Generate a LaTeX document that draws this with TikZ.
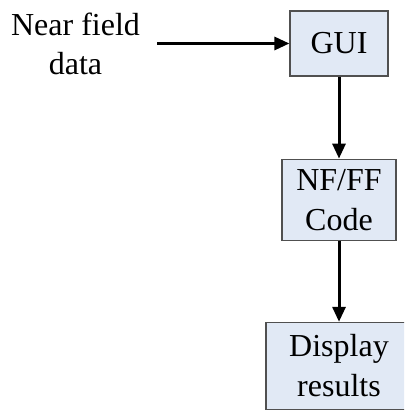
\documentclass[tikz,border=0pt]{standalone}
\usepackage{fontspec}
\setmainfont{Liberation Serif}
\usepackage{tikz}
\usetikzlibrary{arrows.meta,positioning}
\definecolor{boxfill}{RGB}{225,233,245}
\definecolor{boxline}{RGB}{80,80,80}

\begin{document}
\begin{tikzpicture}[>={Triangle[length=7.5pt,width=6.5pt]},
    font=\fontsize{16}{20}\selectfont, line width=1.5pt,
    box/.style={draw=boxline, fill=boxfill, line width=0.6pt, align=center, inner sep=2pt}]
\clip (0,0) rectangle (202pt,-205pt);
\node[box, minimum width=49pt, minimum height=32.5pt] (gui) at (169.5pt,-21.75pt) {GUI};
\node[box, minimum width=57pt, minimum height=40.5pt, below=41pt of gui] (nfff) {NF/FF\\Code};
\node[box, minimum width=73pt, minimum height=43.5pt, below=40.5pt of nfff] (display) {Display\\results};
\node[align=center, inner sep=8pt, left=66pt of gui, font=\fontsize{16}{19.5}\selectfont] (nearfield) {Near field\\data};
\draw[->] (nearfield) -- (gui);
\draw[->] (gui) -- (nfff);
\draw[->] (nfff) -- (display);
\end{tikzpicture}
\end{document}
